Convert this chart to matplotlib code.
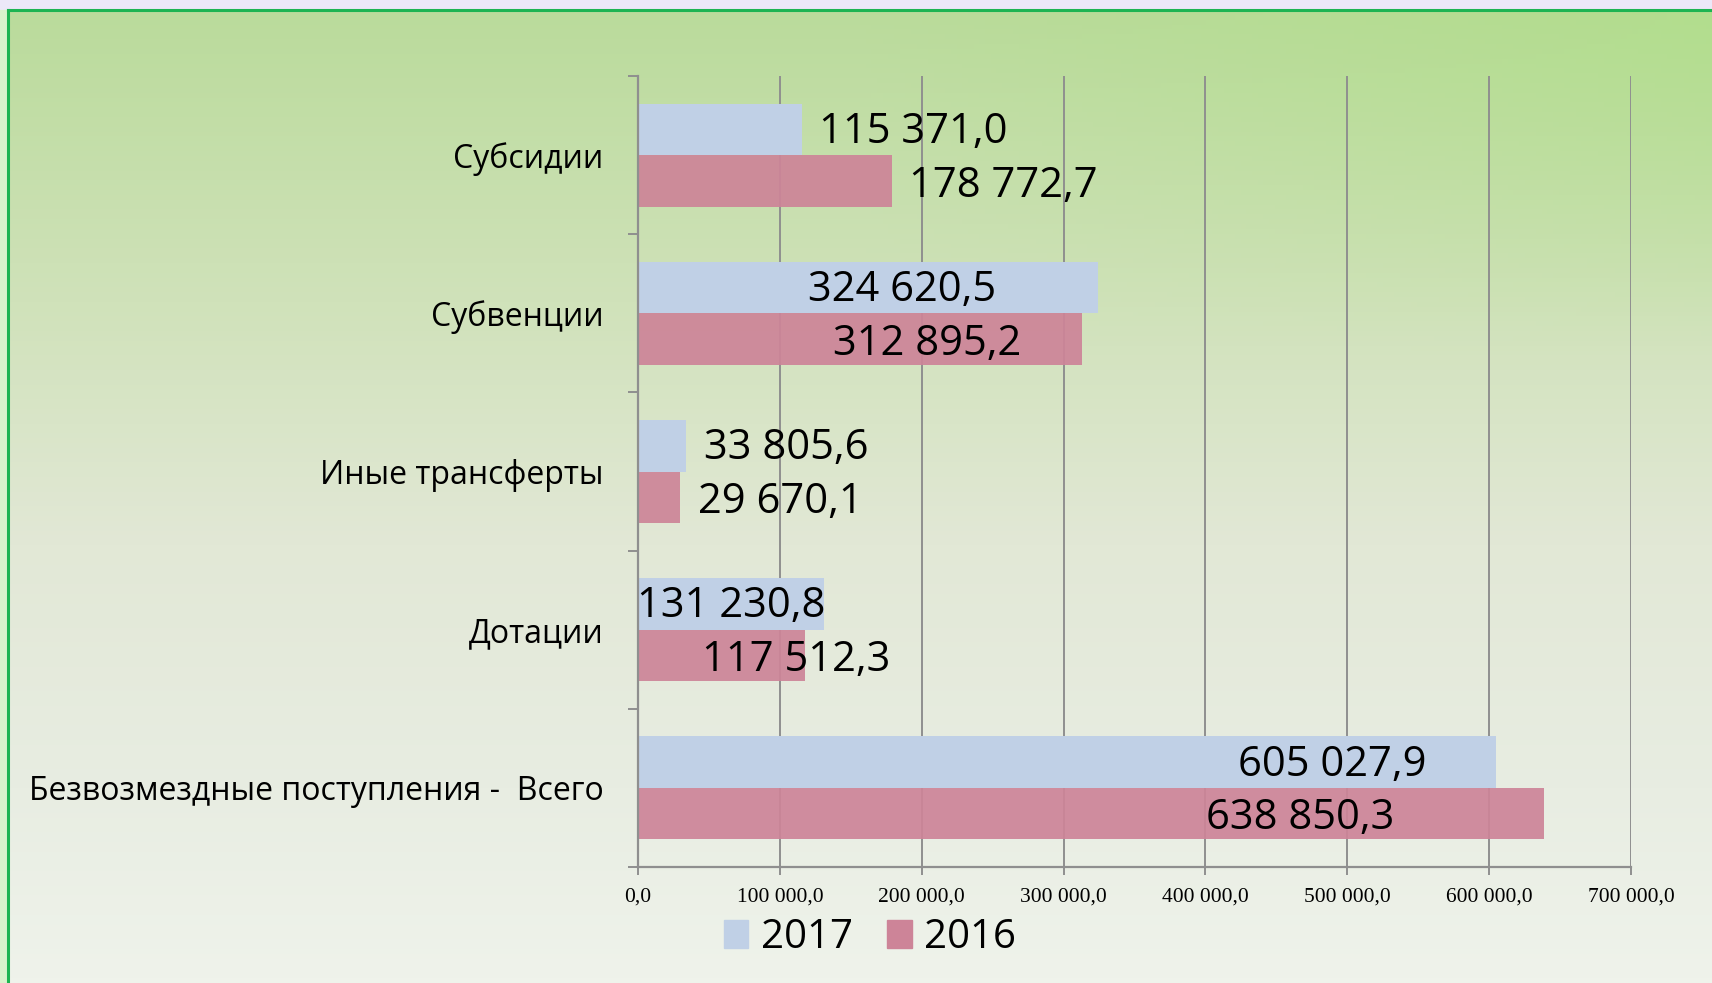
import matplotlib
matplotlib.use("Agg")
import matplotlib.pyplot as plt
from matplotlib.lines import Line2D
from matplotlib.patches import Patch
from matplotlib.ticker import FuncFormatter, MultipleLocator
import numpy as np

# данные
categories = ["Субсидии", "Субвенции", "Иные трансферты", "Дотации",
              "Безвозмездные поступления -  Всего"]
values_2017 = [115371.0, 324620.5, 33805.6, 131230.8, 605027.9]
values_2016 = [178772.7, 312895.2, 29670.1, 117512.3, 638850.3]
series_names = ["2017", "2016"]

# сдвиг подписей относительно конца столбца (в единицах оси X)
shift_2017 = [79000, -138600, 70500, -65700, -115300]
shift_2016 = [78800, -109200, 70400, -6200, -171800]

col_2017 = "#C0D0E6"
col_2016 = "#CD8498"
grid_col = "#8F8F8F"
sans = ["Open Sans", "DejaVu Sans"]
serif = ["Liberation Serif", "DejaVu Serif"]

fig = plt.figure(figsize=(17.12, 9.83), dpi=100)
fig.patch.set_facecolor("#ECE8F8")

# фон с градиентом
bg = fig.add_axes([8 / 1712, 0, 1 - 8 / 1712, 1 - 10 / 983], zorder=-5)
h, w = 200, 300
t = np.linspace(0, 1, h)[:, None]
sx = np.linspace(0, 1, w)[None, :]
stops_t = [0.0, 0.3, 0.55, 0.8, 1.0]
stops_c = np.array([[0xBA, 0xDB, 0x9B], [0xD0, 0xE2, 0xBA], [0xE2, 0xE8, 0xD6],
                    [0xE8, 0xED, 0xE2], [0xEF, 0xF3, 0xEB]]) / 255.0
img = np.zeros((h, w, 3))
for k in range(3):
    img[:, :, k] = np.interp(t[:, 0], stops_t, stops_c[:, k])[:, None]
# правый верхний угол зеленее
green = np.array([0xAF, 0xDE, 0x88]) / 255.0
wgt = np.clip(1 - t / 0.35, 0, 1) * np.clip((sx - 0.5) / 0.5, 0, 1) * 0.7
img = img * (1 - wgt[:, :, None]) + green[None, None, :] * wgt[:, :, None]
bg.imshow(img, aspect="auto", extent=[0, 1, 0, 1])
bg.set_axis_off()

# рамка
fig.patches.append(plt.Rectangle((0, 0), 7 / 1712, 1 - 10 / 983, transform=fig.transFigure,
                                 color="#D8F3CC", zorder=-6))
fig.add_artist(Line2D([8 / 1712, 1], [1 - 10 / 983, 1 - 10 / 983], color="#1DB452", lw=2.2))
fig.add_artist(Line2D([8 / 1712, 8 / 1712], [0, 1 - 10 / 983], color="#1DB452", lw=2.2))

ax = fig.add_axes([638 / 1712, 1 - 867 / 983, 993 / 1712, 791 / 983])
ax.set_facecolor("none")

y = np.arange(len(categories))
bh = 0.325
ax.barh(y - bh / 2, values_2017, height=bh, color=col_2017, zorder=1)
ax.barh(y + bh / 2, values_2016, height=bh, color=col_2016, alpha=0.92, zorder=1)


def fmt(v):
    s = f"{v:,.1f}".replace(",", " ").replace(".", ",")
    return s


for i in range(len(categories)):
    ax.text(values_2017[i] + shift_2017[i], y[i] - bh / 2 + 0.015, fmt(values_2017[i]),
            ha="center", va="center", fontsize=30, family=sans, color="black", zorder=3)
    ax.text(values_2016[i] + shift_2016[i], y[i] + bh / 2 + 0.03, fmt(values_2016[i]),
            ha="center", va="center", fontsize=30, family=sans, color="black", zorder=3)

ax.set_xlim(0, 700000)
ax.set_ylim(len(categories) - 0.5, -0.5)
ax.xaxis.set_major_locator(MultipleLocator(100000))
ax.xaxis.set_major_formatter(FuncFormatter(lambda v, p: fmt(v)))
ax.grid(axis="x", color=grid_col, lw=1.4, zorder=0)
ax.set_axisbelow(True)

ax.set_yticks(y)
ax.set_yticklabels(categories, fontsize=23, family=sans)
ax.set_yticks(np.arange(len(categories) + 1) - 0.5, minor=True)
ax.tick_params(axis="y", which="major", length=0, pad=25)
ax.tick_params(axis="y", which="minor", length=7, width=1.4, color=grid_col)
ax.tick_params(axis="x", length=6, width=1.4, color=grid_col, pad=9, labelsize=15.5)
for lab in ax.get_xticklabels():
    lab.set_family(serif)

for side in ["top", "right"]:
    ax.spines[side].set_visible(False)
for side in ["left", "bottom"]:
    ax.spines[side].set_color(grid_col)
    ax.spines[side].set_linewidth(1.6)

handles = [Patch(color=col_2017), Patch(color=col_2016)]
fig.legend(handles, series_names, loc="center", bbox_to_anchor=(0.508, 1 - 938 / 983),
           ncol=2, frameon=False, prop={"family": sans, "size": 29},
           handlelength=0.62, handleheight=0.68, handletextpad=0.3, columnspacing=0.85)

fig.savefig("out.png", dpi=100, facecolor=fig.get_facecolor())
